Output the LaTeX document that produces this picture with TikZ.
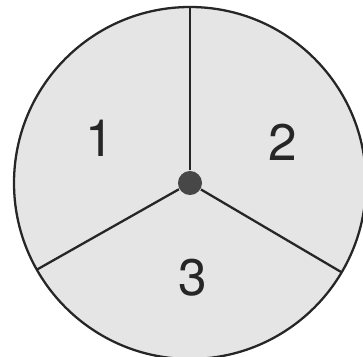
\documentclass[tikz,border=0pt]{standalone}
\usepackage{fontspec}
\setsansfont{TeX Gyre Heros}
\usetikzlibrary{calc}

\tikzstyle{wheel} = [draw=black!85, line width=0.65pt, fill=gray!20]
\tikzstyle{spoke} = [draw=black!85, line width=0.65pt]
\tikzstyle{hub} = [circle, fill=black!72, minimum size=0.24cm, inner sep=0pt]
\tikzstyle{num} = [font=\sffamily\fontsize{14.6}{17}\selectfont, text=black!85]

\begin{document}
\begin{tikzpicture}[x=0.01cm, y=0.01cm]
\useasboundingbox (0,0) rectangle (363,357);
\clip (0,0) rectangle (363,357);
\coordinate (O) at (190,174);
\draw[wheel] (O) circle[radius=176];
% ends of the spokes on the rim
\coordinate (rimtop) at ($(O)+(90:176)$);
\coordinate (rimleft) at ($(O)+(209.5:176)$);
\coordinate (rimright) at ($(O)+(329.5:176)$);
\node[hub] (hub) at (O) {};
\draw[spoke] (hub) -- (rimtop);
\draw[spoke] (hub) -- (rimleft);
\draw[spoke] (hub) -- (rimright);
% sector numbers
\node[num] (one) at (100,219) {1};
\node[num] (two) at (283,215) {2};
\node[num] (three) at (193,79) {3};
\end{tikzpicture}
\end{document}
